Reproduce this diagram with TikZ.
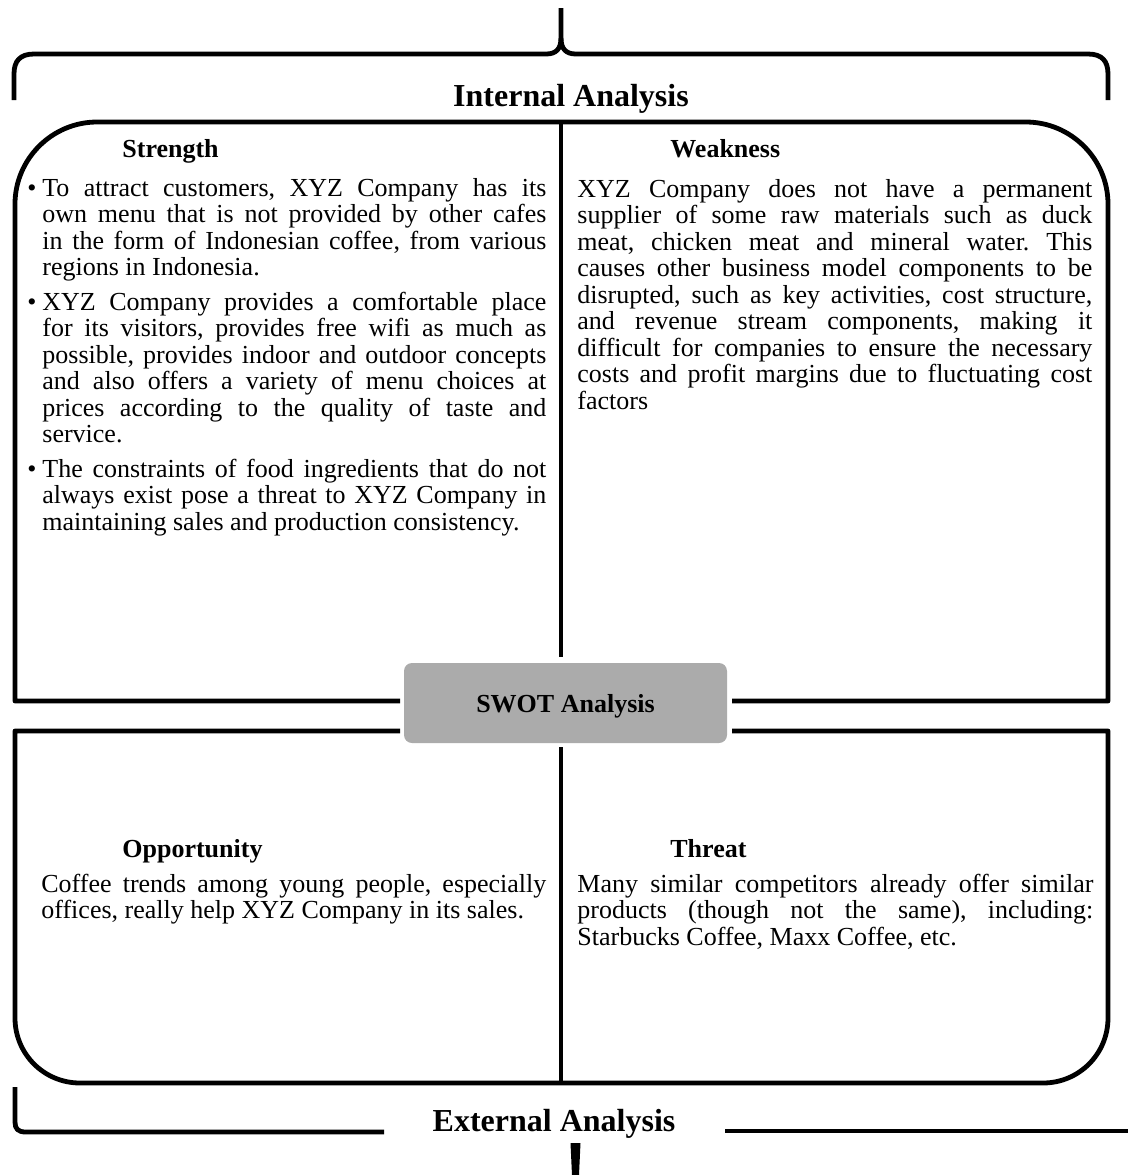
\documentclass[tikz,border=0pt]{standalone}
\usepackage{fontspec}
\setmainfont{Liberation Serif}
\frenchspacing
\newdimen\pxu \pxu=0.5pt
\definecolor{swotgray}{HTML}{ABABAB}
\newcommand\jl[1]{\makebox[\linewidth][s]{#1}\\}
\newcommand\bul{\llap{•\hspace{3pt}}}
\tikzset{
  outline/.style={line width=2.4pt, line join=round},
  divider/.style={line width=1.6pt},
  body/.style={anchor=base west, inner sep=0pt, font=\fontsize{13pt}{13.25pt}\selectfont},
  head/.style={anchor=base west, inner sep=0pt, font=\bfseries\fontsize{13pt}{13.25pt}\selectfont},
  title/.style={anchor=base, inner sep=0pt, font=\bfseries\fontsize{16pt}{16pt}\selectfont},
}
\begin{document}
\begin{tikzpicture}[x=0.5pt,y=-0.5pt]
\useasboundingbox (0,0) rectangle (1128,1175);
% top brace
\draw[outline] (14,100) -- (14,74) .. controls (14,61) and (20,54) .. (34,54) -- (546,54)
  .. controls (556,54) and (561,49) .. (561,38) -- (561,8);
\draw[outline] (561,38) .. controls (561,49) and (566,54) .. (576,54) -- (1088,54)
  .. controls (1102,54) and (1108,61) .. (1108,74) -- (1108,100);
\node[title] (internal) at (571,106) {Internal Analysis};
% upper box
\draw[outline] (400,701) -- (15,701) -- (15,204) .. controls (15,159) and (52,122) .. (97,122)
  -- (1026,122) .. controls (1071,122) and (1108,159) .. (1108,204) -- (1108,701) -- (732,701);
\draw[divider] (561,122) -- (561,657);
% lower box
\draw[outline] (400,731) -- (15,731) -- (15,1018) .. controls (15,1054) and (44,1083) .. (80,1083)
  -- (1043,1083) .. controls (1079,1083) and (1108,1054) .. (1108,1018) -- (1108,731) -- (732,731);
\draw[divider] (561,747) -- (561,1083);
% SWOT box
\node[fill=swotgray, rounded corners=4pt, inner sep=0pt, minimum width=161.5pt, minimum height=40pt,
  text height=12pt, text depth=3pt, font=\bfseries\fontsize{13pt}{13pt}\selectfont] (swot) at (565.5,703) {SWOT Analysis};
% bottom brace
\draw[outline] (15,1087) -- (15,1122) .. controls (15,1129) and (18,1132) .. (26,1132) -- (384,1132);
\draw[outline] (725,1131) -- (1128,1131);
\fill (570.5,1143) -- (580.5,1143) -- (579,1175) -- (572,1175) -- cycle;
\node[title] (external) at (554,1131) {External Analysis};
% headings
\node[head] (strength) at (122,157) {Strength};
\node[head] (weakness) at (670,157) {Weakness};
\node[head] (opportunity) at (122,857) {Opportunity};
\node[head] (threat) at (670,857) {Threat};
% texts
\node[body] (stext) at (42,196) {\parbox[t]{504\pxu}{%
\jl{\bul To attract customers, XYZ Company has its}
\jl{own menu that is not provided by other cafes}
\jl{in the form of Indonesian coffee, from various}
regions in Indonesia.\\[4pt]
\jl{\bul XYZ Company provides a comfortable place}
\jl{for its visitors, provides free wifi as much as}
\jl{possible, provides indoor and outdoor concepts}
\jl{and also offers a variety of menu choices at}
\jl{prices according to the quality of taste and}
service.\\[4pt]
\jl{\bul The constraints of food ingredients that do not}
\jl{always exist pose a threat to XYZ Company in}
maintaining sales and production consistency.}};
\node[body] (wtext) at (577,197) {\parbox[t]{515\pxu}{%
\jl{XYZ Company does not have a permanent}
\jl{supplier of some raw materials such as duck}
\jl{meat, chicken meat and mineral water. This}
\jl{causes other business model components to be}
\jl{disrupted, such as key activities, cost structure,}
\jl{and revenue stream components, making it}
\jl{difficult for companies to ensure the necessary}
\jl{costs and profit margins due to fluctuating cost}
factors}};
\node[body] (otext) at (41,892) {\parbox[t]{505\pxu}{%
\jl{Coffee trends among young people, especially}
offices, really help XYZ Company in its sales.}};
\node[body] (ttext) at (577,892) {\parbox[t]{516\pxu}{%
\jl{Many similar competitors already offer similar}
\jl{products (though not the same), including:}
Starbucks Coffee, Maxx Coffee, etc.}};
\end{tikzpicture}
\end{document}
